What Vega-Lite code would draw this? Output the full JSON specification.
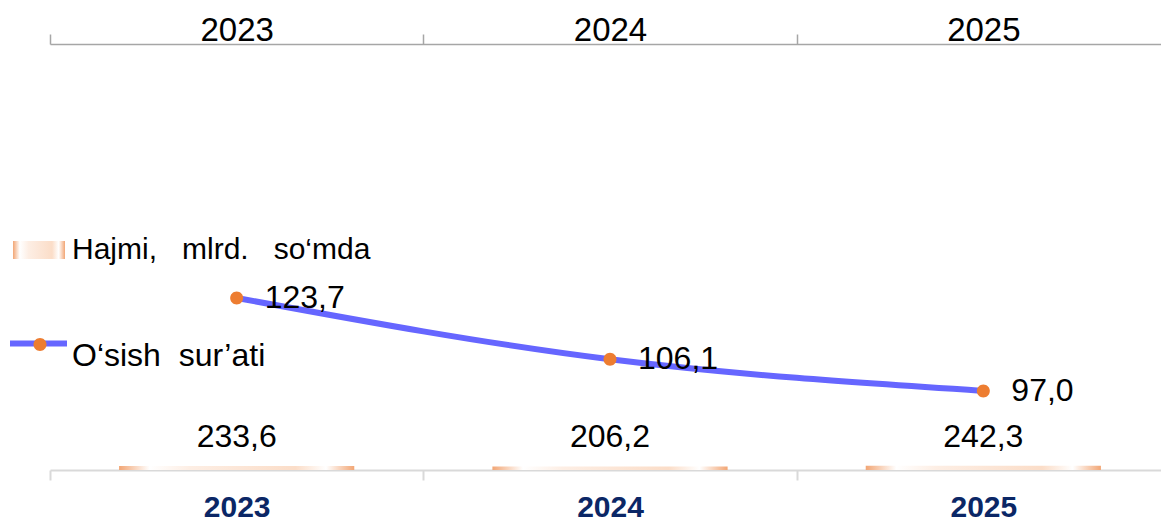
{
  "$schema": "https://vega.github.io/schema/vega-lite/v6.json",
  "width": 1120,
  "height": 426,
  "autosize": {"type": "none"},
  "padding": {"left": 50, "top": 44, "right": 0, "bottom": 49},
  "config": {
    "font": "Liberation Sans",
    "view": {"stroke": null},
    "locale": {"number": {"decimal": ",", "thousands": "\u00a0", "grouping": [3], "currency": ["", ""]}}
  },
  "data": {
    "values": [
      {"year": "2023", "hajmi": 233.6, "osish": 123.7},
      {"year": "2024", "hajmi": 206.2, "osish": 106.1},
      {"year": "2025", "hajmi": 242.3, "osish": 97.0}
    ]
  },
  "layer": [
    {
      "mark": {"type": "bar", "width": {"band": 0.63}, "color": {"gradient": "linear", "x1": 0, "x2": 1, "y1": 0, "y2": 0,
            "stops": [
              {"offset": 0, "color": "#F2A675"},
              {"offset": 0.13, "color": "#FFFFFF"},
              {"offset": 0.3, "color": "#FDEEE4"},
              {"offset": 0.75, "color": "#FBDDC8"},
              {"offset": 0.88, "color": "#FFFFFF"},
              {"offset": 1, "color": "#F2A675"}
            ]}},
      "encoding": {
        "x": {
          "field": "year", "type": "nominal", "sort": null,
          "scale": {"paddingInner": 0, "paddingOuter": 0},
          "axis": {
            "orient": "top", "title": null, "labelAngle": 0,
            "domainColor": "#A6A6A6", "domainWidth": 1.5,
            "tickColor": "#A6A6A6", "tickWidth": 1.5, "tickSize": 10, "tickBand": "extent",
            "labelFontSize": 33, "labelColor": "#000000", "labelFont": "Liberation Sans",
            "labelBaseline": "alphabetic", "labelPadding": -6
          }
        },
        "y": {"field": "hajmi", "type": "quantitative", "scale": {"domain": [0, 25000], "nice": false}, "axis": null},
        "opacity": {
          "datum": "Hajmi,\u00a0\u00a0\u00a0mlrd.\u00a0\u00a0\u00a0so‘mda",
          "scale": {"range": [1]},
          "legend": {
            "orient": "none", "legendX": -37, "legendY": 180, "title": null, "padding": 0,
            "symbolType": "M-1,-0.35H1V0.35H-1Z", "symbolSize": 2704, "symbolStrokeWidth": 0,
            "symbolFillColor": "#F8C9A8", "symbolOpacity": 1,
            "labelFontSize": 30, "labelFont": "Liberation Sans", "labelColor": "#000000",
            "labelOffset": 7, "labelLimit": 600
          }
        }
      }
    },
    {
      "mark": {"type": "text", "fontSize": 32, "font": "Liberation Sans", "color": "#000000", "baseline": "alphabetic", "dy": -19},
      "encoding": {
        "x": {
          "field": "year", "type": "nominal", "sort": null,
          "scale": {"paddingInner": 0, "paddingOuter": 0},
          "axis": {
            "orient": "bottom", "title": null, "labelAngle": 0,
            "domainColor": "#D9D9D9", "domainWidth": 2,
            "tickColor": "#D9D9D9", "tickWidth": 2, "tickSize": 10, "tickBand": "extent",
            "labelFontSize": 30, "labelFontWeight": "bold", "labelColor": "#0B2766", "labelFont": "Liberation Sans",
            "labelBaseline": "alphabetic", "labelPadding": 36
          }
        },
        "y": {"field": "hajmi", "type": "quantitative", "scale": {"domain": [0, 25000], "nice": false}, "axis": null},
        "text": {"field": "hajmi", "type": "quantitative", "format": ".1f"}
      }
    },
    {
      "mark": {"type": "line", "interpolate": "monotone", "strokeWidth": 6, "strokeCap": "round"},
      "encoding": {
        "x": {"field": "year", "type": "nominal", "sort": null, "axis": null},
        "y": {"field": "osish", "type": "quantitative", "scale": {"domain": [74.3, 196.6], "nice": false, "zero": false}, "axis": null},
        "stroke": {
          "datum": "O‘sish\u00a0\u00a0sur’ati",
          "scale": {"range": ["#6666FF"]},
          "legend": {
            "orient": "none", "legendX": -43, "legendY": 280, "title": null, "padding": 0,
            "symbolType": "M-1,-0.42H1", "symbolSize": 3249, "symbolStrokeWidth": 6, "symbolFillColor": "transparent",
            "labelFontSize": 32, "labelFont": "Liberation Sans", "labelColor": "#000000",
            "labelOffset": 2, "labelLimit": 600
          }
        }
      }
    },
    {
      "mark": {"type": "point", "filled": true, "size": 3249, "color": "#ED7D31", "opacity": 1},
      "encoding": {
        "x": {"field": "year", "type": "nominal", "sort": null, "axis": null},
        "y": {"field": "osish", "type": "quantitative", "scale": {"domain": [74.3, 196.6], "nice": false, "zero": false}, "axis": null},
        "shape": {
          "datum": "O‘sish\u00a0\u00a0sur’ati\u00a0",
          "scale": {"range": ["M-0.228,0A0.228,0.228,0,1,0,0.228,0A0.228,0.228,0,1,0,-0.228,0Z"]},
          "legend": {
            "orient": "none", "legendX": -38.5, "legendY": 272, "title": null, "padding": 0,
            "symbolType": "M-0.228,-0.42A0.228,0.228,0,1,0,0.228,-0.42A0.228,0.228,0,1,0,-0.228,-0.42Z",
            "symbolSize": 3249, "symbolStrokeWidth": 0, "symbolFillColor": "#ED7D31", "symbolOpacity": 1,
            "labelFontSize": 32, "labelColor": "transparent", "labelLimit": 600
          }
        }
      }
    },
    {
      "mark": {"type": "text", "fontSize": 32, "font": "Liberation Sans", "color": "#000000", "align": "left", "baseline": "middle", "dx": 28},
      "encoding": {
        "x": {"field": "year", "type": "nominal", "sort": null, "axis": null},
        "y": {"field": "osish", "type": "quantitative", "scale": {"domain": [74.3, 196.6], "nice": false, "zero": false}, "axis": null},
        "text": {"field": "osish", "type": "quantitative", "format": ".1f"}
      }
    }
  ],
  "resolve": {"scale": {"y": "independent"}, "axis": {"x": "independent"}}
}
